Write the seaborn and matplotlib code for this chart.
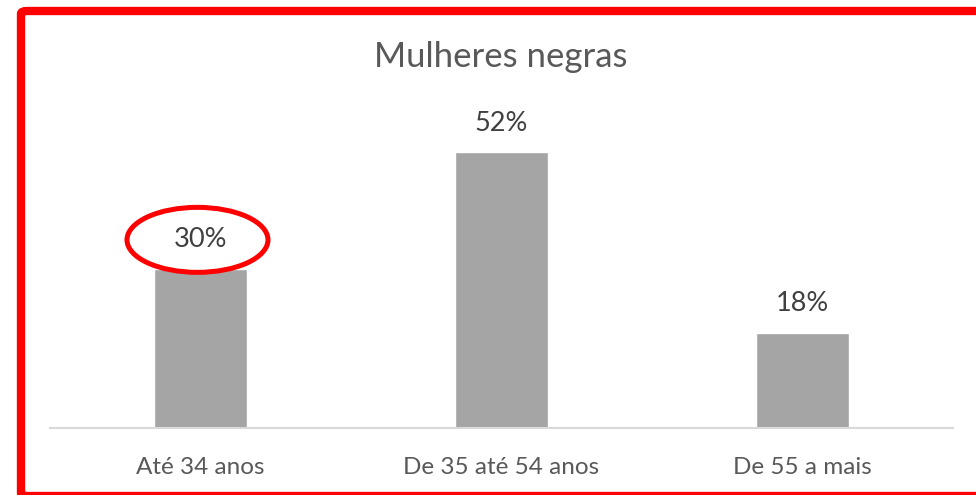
import matplotlib
matplotlib.use("Agg")
import matplotlib.pyplot as plt
import pandas as pd
import seaborn as sns
from matplotlib.patches import Ellipse, FancyBboxPatch

# dados do gráfico
categorias = ["Até 34 anos", "De 35 até 54 anos", "De 55 a mais"]
percentuais = [30, 52, 18]
titulo = "Mulheres negras"

df = pd.DataFrame({"faixa": categorias, "pct": percentuais})

sns.set_style("white")
plt.rcParams["font.family"] = ["Lato", "DejaVu Sans"]

fig = plt.figure(figsize=(9.76, 4.95), dpi=100)
ax = fig.add_axes([50 / 976, 67 / 495, 903 / 976, 328 / 495])

sns.barplot(data=df, x="faixa", y="pct", color="#a5a5a5", saturation=1,
            width=0.31, ax=ax)
ax.set_xlim(-0.5, len(categorias) - 0.5)
ax.set_ylim(0, 328 / 5.3)

for i, v in enumerate(percentuais):
    ax.annotate(f"{v}%", (i, v), xytext=(0, 21), textcoords="offset points",
                ha="center", va="center", fontsize=19.5, color="#404040")

ax.set_xlabel("")
ax.set_ylabel("")
ax.set_yticks([])
ax.tick_params(axis="x", length=0, pad=21, labelsize=17.5, labelcolor="#595959")
for side in ["top", "left", "right"]:
    ax.spines[side].set_visible(False)
ax.spines["bottom"].set_color("#d9d9d9")
ax.spines["bottom"].set_linewidth(1.5)

fig.text(501 / 976, 1 - 57 / 495, titulo, ha="center", va="center",
         fontsize=25, color="#595959")

# destaque em vermelho no primeiro rótulo
ax.add_patch(Ellipse((-0.01, 35.5), width=141 / 301, height=65 / 5.3,
                     fill=False, edgecolor="#ff0000", linewidth=3.6,
                     clip_on=False))

# moldura vermelha
fig.patches.append(FancyBboxPatch((21 / 976, -1 / 495), 1.2, 485 / 495,
                                  boxstyle="round,pad=0,rounding_size=0.006",
                                  transform=fig.transFigure, fill=False,
                                  edgecolor="#ff0000", linewidth=6))

fig.savefig("out.png", dpi=100)
